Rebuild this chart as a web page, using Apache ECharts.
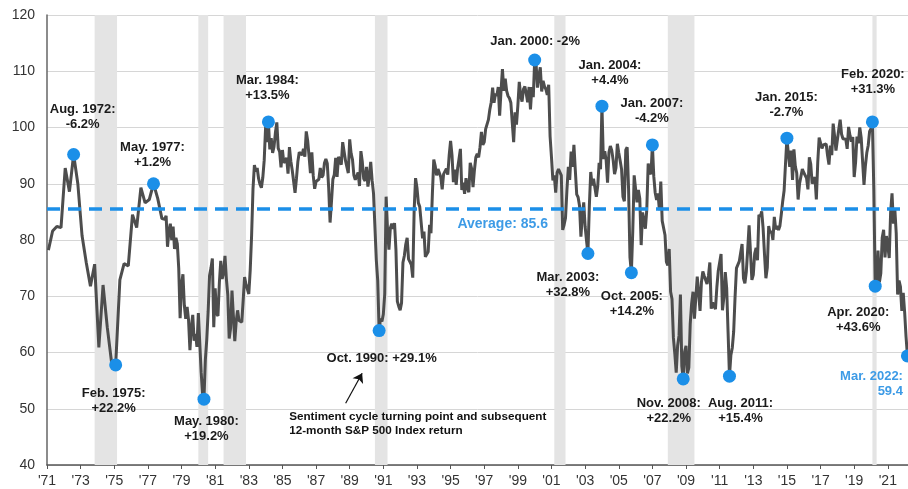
<!DOCTYPE html>
<html>
<head>
<meta charset="utf-8">
<script src="https://cdn.jsdelivr.net/npm/echarts@6/dist/echarts.min.js"></script>
<style>
  html, body { margin: 0; padding: 0; background: #fff; }
  #chart { width: 908px; height: 489px; }
</style>
</head>
<body>
<div id="chart"></div>
<script>
// 1971-1977: quarterly readings (Feb, May, Aug, Nov)
const quarterlyValues = [
  78.2, 81.6, 82.4, 82.2,
  92.8, 88.6, 95.2, 90.0,
  80.8, 76.0, 71.8, 75.7,
  60.9, 72.0, 64.5, 58.4,
  57.8, 72.9, 75.8, 75.4,
  84.5, 82.2, 89.3, 86.6,
  87.2, 90.0, 87.4, 83.8
];

// Jan 1978 - Mar 2022: monthly readings
const monthlyValues = [
  83.7, 84.3, 78.8, 81.6, 82.9, 80.0, 82.4, 78.4, 80.4, 79.3, 75.0, 66.1, // 1978
  72.1, 73.9, 68.4, 66.0, 68.1, 65.8, 60.4, 64.5, 66.7, 62.1, 63.3, 61.0, // 1979
  67.0, 66.9, 56.5, 52.7, 51.7, 58.7, 62.3, 67.3, 73.7, 75.0, 76.7, 64.5, // 1980
  71.4, 66.9, 66.5, 72.4, 76.3, 73.1, 74.1, 77.2, 73.1, 70.3, 62.5, 64.3, // 1981
  71.0, 66.5, 62.0, 65.5, 67.5, 65.7, 65.4, 65.4, 69.3, 73.4, 72.1, 71.9, // 1982
  70.4, 74.6, 80.8, 89.1, 93.3, 92.2, 92.8, 90.9, 89.9, 89.3, 91.1, 94.2, // 1983
  100.1, 97.4, 101.0, 96.1, 98.1, 95.5, 96.6, 99.1, 100.9, 96.3, 95.7, 92.9, // 1984
  96.0, 93.7, 93.7, 94.6, 91.8, 96.5, 94.0, 92.4, 92.1, 88.4, 90.9, 93.9, // 1985
  95.6, 95.9, 95.1, 96.2, 94.8, 99.3, 97.7, 94.9, 91.9, 95.6, 91.4, 89.1, // 1986
  90.4, 90.2, 90.8, 92.8, 91.1, 91.5, 93.7, 94.4, 93.6, 89.3, 83.1, 86.8, // 1987
  90.8, 91.6, 94.6, 91.2, 94.8, 94.7, 93.4, 97.4, 97.3, 94.1, 93.0, 91.9, // 1988
  97.9, 95.4, 94.3, 91.5, 90.7, 90.6, 92.0, 89.6, 95.8, 93.9, 90.9, 90.5, // 1989
  93.0, 89.5, 91.3, 93.9, 90.6, 88.3, 88.2, 76.4, 72.8, 63.9, 66.0, 65.5, // 1990
  66.8, 70.4, 87.7, 81.8, 78.3, 82.1, 82.9, 82.0, 83.0, 78.3, 69.1, 68.2, // 1991
  67.5, 68.8, 76.0, 77.2, 79.2, 80.4, 76.6, 76.1, 75.6, 73.3, 85.3, 91.0, // 1992
  89.3, 86.6, 85.9, 85.6, 80.3, 81.5, 77.0, 77.3, 77.9, 82.7, 81.2, 88.2, // 1993
  94.3, 93.2, 91.5, 92.6, 92.8, 91.2, 89.0, 91.7, 91.5, 92.7, 91.6, 95.1, // 1994
  97.6, 95.1, 90.3, 92.5, 89.8, 92.7, 94.4, 96.2, 88.9, 90.2, 88.2, 91.0, // 1995
  89.3, 88.5, 93.7, 92.7, 89.4, 92.4, 94.7, 95.3, 94.7, 96.5, 99.2, 96.9, // 1996
  97.4, 99.7, 100.0, 101.4, 103.2, 104.5, 107.1, 104.4, 106.0, 105.6, 107.2, 102.1, // 1997
  106.6, 110.4, 106.5, 108.7, 106.5, 105.6, 105.2, 104.4, 100.9, 97.4, 102.7, 100.5, // 1998
  103.9, 108.1, 105.7, 104.6, 106.8, 107.3, 106.0, 104.5, 107.2, 103.2, 107.2, 105.4, // 1999
  112.0, 111.3, 107.1, 109.2, 110.7, 106.4, 108.3, 107.3, 106.8, 105.8, 107.6, 98.4, // 2000
  94.7, 90.6, 91.5, 88.4, 92.0, 92.6, 92.4, 91.5, 81.8, 82.7, 83.9, 88.8, // 2001
  93.0, 90.7, 95.7, 93.0, 96.9, 92.4, 88.1, 87.6, 86.1, 80.6, 84.2, 86.7, // 2002
  82.4, 79.9, 77.6, 86.0, 92.1, 89.7, 90.9, 89.3, 87.7, 89.6, 93.7, 92.6, // 2003
  103.8, 94.4, 95.8, 94.2, 90.2, 95.6, 96.7, 95.9, 94.2, 91.7, 92.8, 97.1, // 2004
  95.5, 94.1, 92.6, 87.7, 86.9, 96.0, 96.5, 89.1, 76.9, 74.2, 81.6, 91.5, // 2005
  91.2, 86.7, 88.9, 87.4, 79.1, 84.9, 84.7, 82.0, 85.4, 93.6, 92.1, 91.7, // 2006
  96.9, 91.3, 88.4, 87.1, 88.3, 85.3, 90.4, 83.4, 83.4, 80.9, 76.1, 75.5, // 2007
  78.4, 70.8, 69.5, 62.6, 59.8, 56.4, 61.2, 63.0, 70.3, 57.6, 55.3, 60.1, // 2008
  61.2, 56.3, 57.3, 65.1, 68.7, 70.8, 66.0, 65.7, 73.5, 70.6, 67.4, 72.5, // 2009
  74.4, 73.6, 73.6, 72.2, 73.6, 76.0, 67.8, 68.9, 68.2, 67.7, 71.6, 74.5, // 2010
  74.2, 77.5, 67.5, 69.8, 74.3, 71.5, 63.7, 55.8, 59.5, 60.8, 63.7, 69.9, // 2011
  75.0, 75.3, 76.2, 76.4, 79.3, 73.2, 72.3, 74.3, 78.3, 82.6, 82.7, 72.9, // 2012
  73.8, 77.6, 78.6, 76.4, 84.5, 84.1, 85.1, 82.1, 77.5, 73.2, 75.1, 82.5, // 2013
  81.2, 81.6, 80.0, 84.1, 81.9, 82.5, 81.8, 82.5, 84.6, 86.9, 88.8, 93.6, // 2014
  98.1, 95.4, 93.0, 95.9, 90.7, 96.1, 93.1, 91.9, 87.2, 90.0, 91.3, 92.6, // 2015
  92.0, 91.7, 91.0, 89.0, 94.7, 93.5, 90.0, 89.8, 91.2, 87.2, 93.8, 98.2, // 2016
  98.5, 96.3, 96.9, 97.0, 97.1, 95.0, 93.4, 96.8, 95.1, 100.7, 98.5, 95.9, // 2017
  95.7, 99.7, 101.4, 98.8, 98.0, 98.2, 97.9, 96.2, 100.1, 98.6, 97.5, 98.3, // 2018
  91.2, 93.8, 98.4, 97.2, 100.0, 98.2, 98.4, 89.8, 93.2, 95.5, 96.8, 99.3, // 2019
  99.8, 101.0, 89.1, 71.8, 72.3, 78.1, 72.5, 74.1, 80.4, 81.8, 76.9, 80.7, // 2020
  79.0, 76.8, 84.9, 88.3, 82.9, 85.5, 81.2, 70.3, 72.8, 71.7, 67.4, 70.6, // 2021
  67.2, 62.8, 59.4 // 2022
];

const averageValue = 85.6;

// recessions [start year, start month, end year, end month]
const recessions = [
  [1973, 11, 1975, 2],
  [1980, 1, 1980, 7],
  [1981, 7, 1982, 10],
  [1990, 7, 1991, 3],
  [2001, 3, 2001, 10],
  [2007, 12, 2009, 6],
  [2020, 2, 2020, 4]
];

// turning points [year, month] and their labels
const turnDates = [
  [1972, 8], [1975, 2], [1977, 5], [1980, 5], [1984, 3], [1990, 10],
  [2000, 1], [2003, 3], [2004, 1], [2005, 10], [2007, 1], [2008, 11],
  [2011, 8], [2015, 1], [2020, 2], [2020, 4], [2022, 3]
];
const turnLabels = [
  'Aug. 1972:\n-6.2%', 'Feb. 1975:\n+22.2%', 'May. 1977:\n+1.2%', 'May. 1980:\n+19.2%',
  'Mar. 1984:\n+13.5%', 'Oct. 1990: +29.1%', 'Jan. 2000: -2%', 'Mar. 2003:\n+32.8%',
  'Jan. 2004:\n+4.4%', 'Oct. 2005:\n+14.2%', 'Jan. 2007:\n-4.2%', 'Nov. 2008:\n+22.2%',
  'Aug. 2011:\n+15.4%', 'Jan. 2015:\n-2.7%', 'Feb. 2020:\n+31.3%', 'Apr. 2020:\n+43.6%',
  'Mar. 2022:\n59.4'
];
// label offset from the dot centre, px
const labelOffsets = [
  [9, -38], [-2, 36], [-1, -29], [2.5, 30], [-1, -33.5], [2.5, 27.5],
  [0.5, -19], [-20, 31], [8, -33.5], [0.5, 31.5], [-0.5, -34.5], [-14.5, 31.5],
  [11, 34.5], [-0.5, -33], [0.5, -40], [-17, 34], [-4.5, 28.3]
];

const noteText = 'Sentiment cycle turning point and subsequent\n12-month S&P 500 Index return';

const FONT = '"Liberation Sans", Arial, sans-serif';
const BLUE = '#1b8fe8';
const BASE_YEAR = 1971;

// years since Jan 1971
function toX(year, month) {
  return (year - BASE_YEAR) + (month - 1) / 12;
}
function valueAt(year, month) {
  if (year < 1978) return quarterlyValues[(year - 1971) * 4 + (month - 2) / 3];
  return monthlyValues[(year - 1978) * 12 + month - 1];
}

// build series data
const lineData = [];
quarterlyValues.forEach((v, i) => {
  lineData.push([toX(1971 + Math.floor(i / 4), 2 + (i % 4) * 3), v]);
});
monthlyValues.forEach((v, i) => {
  lineData.push([toX(1978 + Math.floor(i / 12), 1 + (i % 12)), v]);
});

const lastIndex = turnDates.length - 1;
const turnData = turnDates.map((d, i) => {
  const item = {
    value: [toX(d[0], d[1]), valueAt(d[0], d[1])],
    label: { formatter: turnLabels[i], offset: labelOffsets[i] }
  };
  if (i === lastIndex) {
    item.label.align = 'right';
    item.label.color = '#3d9be6';
  }
  return item;
});

const recessionAreas = recessions.map(r => [
  { xAxis: toX(r[0], r[1]) },
  { xAxis: toX(r[2], r[3]) + 1 / 12 }
]);

const chart = echarts.init(document.getElementById('chart'));
const option = {
  animation: false,
  backgroundColor: '#fff',
  textStyle: { fontFamily: FONT },
  grid: { left: 47, right: -2.4, top: 15, bottom: 24 },
  xAxis: {
    type: 'value',
    min: 0,
    max: 51.2,
    interval: 2,
    axisLine: { lineStyle: { color: '#555', width: 1.5 } },
    axisTick: { length: 4, lineStyle: { color: '#555' } },
    axisLabel: {
      fontSize: 14,
      color: '#333',
      margin: 9,
      showMaxLabel: false,
      formatter: v => (v % 2 === 0 ? "'" + String((BASE_YEAR + v) % 100).padStart(2, '0') : '')
    },
    splitLine: { show: false }
  },
  yAxis: {
    type: 'value',
    min: 40,
    max: 120,
    interval: 10,
    axisLine: { show: true, lineStyle: { color: '#666', width: 1.5 } },
    axisTick: { show: false },
    axisLabel: { fontSize: 14, color: '#333', margin: 12 },
    splitLine: { lineStyle: { color: '#d6d6d6', width: 1 } }
  },
  series: [
    {
      name: 'Consumer sentiment',
      type: 'line',
      data: lineData,
      showSymbol: false,
      lineStyle: { color: '#4d4d4d', width: 3 },
      z: 3,
      markArea: {
        silent: true,
        itemStyle: { color: '#e4e4e4' },
        data: recessionAreas
      },
      markLine: {
        silent: true,
        symbol: 'none',
        lineStyle: { color: BLUE, width: 3.5, type: [13, 8] },
        label: { show: false },
        data: [{ yAxis: averageValue }]
      },
      markPoint: {
        silent: true,
        symbol: 'circle',
        symbolSize: 0,
        data: [
          {
            coord: [27.1, averageValue],
            label: {
              formatter: 'Average: ' + averageValue,
              offset: [0, 16],
              fontSize: 14,
              fontWeight: 'bold',
              color: '#3d9be6'
            }
          },
          {
            coord: [14.4, 49.8],
            label: {
              formatter: noteText,
              align: 'left',
              verticalAlign: 'top',
              fontSize: 11.7,
              lineHeight: 14,
              fontWeight: 'bold',
              color: '#111'
            }
          }
        ],
        label: { show: true, position: 'inside', fontFamily: FONT, textBorderWidth: 0 }
      }
    },
    {
      name: 'Turning points',
      type: 'scatter',
      data: turnData,
      symbolSize: 13,
      itemStyle: { color: BLUE, opacity: 1 },
      z: 4,
      label: {
        show: true,
        position: 'inside',
        fontFamily: FONT,
        fontSize: 13,
        fontWeight: 'bold',
        lineHeight: 15,
        color: '#1a1a1a',
        textBorderWidth: 0,
        textBorderColor: 'transparent'
      },
      markLine: {
        silent: true,
        symbol: ['none', 'arrow'],
        symbolSize: 9,
        lineStyle: { color: '#111', width: 1.2, type: 'solid' },
        label: { show: false },
        data: [[{ coord: [17.76, 50.97] }, { coord: [18.74, 56.3] }]]
      }
    }
  ]
};
chart.setOption(option);
</script>
</body>
</html>
